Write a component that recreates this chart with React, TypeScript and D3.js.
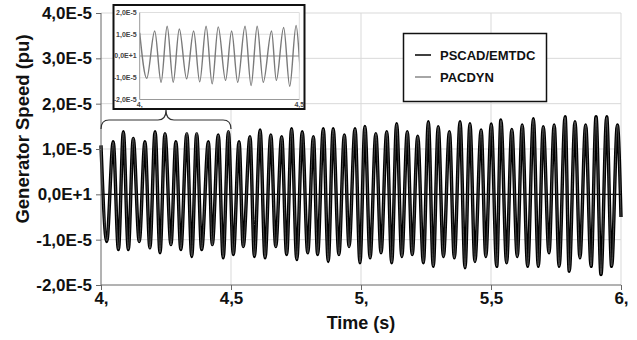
import React, { useEffect, useRef } from 'react';
import * as d3 from 'd3';

// extrema of the generator speed trace (units of 1e-5 pu)
const times = [
  4.000, 4.022, 4.047, 4.067, 4.086, 4.105, 4.124, 4.147, 4.169, 4.188,
  4.208, 4.227, 4.246, 4.269, 4.288, 4.307, 4.330, 4.349, 4.368, 4.387,
  4.413, 4.428, 4.451, 4.470, 4.490, 4.509, 4.531, 4.547, 4.573, 4.590,
  4.612, 4.631, 4.653, 4.672, 4.695, 4.714, 4.733, 4.753, 4.774, 4.795,
  4.817, 4.833, 4.855, 4.874, 4.893, 4.915, 4.936, 4.954, 4.977, 4.996,
  5.015, 5.035, 5.057, 5.077, 5.099, 5.118, 5.137, 5.157, 5.178, 5.197,
  5.218, 5.240, 5.259, 5.278, 5.297, 5.317, 5.340, 5.359, 5.381, 5.400,
  5.419, 5.438, 5.462, 5.480, 5.501, 5.522, 5.538, 5.560, 5.580, 5.601,
  5.620, 5.641, 5.663, 5.682, 5.701, 5.723, 5.743, 5.762, 5.785, 5.801,
  5.823, 5.842, 5.864, 5.885, 5.904, 5.923, 5.945, 5.964, 5.986, 6.000,
];
const pscadValues = [
  1.08, -1.04, 1.16, -1.22, 1.38, -1.22, 1.23, -1.04, 1.16, -1.18,
  1.38, -1.29, 1.34, -1.11, 1.16, -1.22, 1.34, -1.37, 1.34, -1.22,
  1.16, -1.11, 1.31, -1.40, 1.38, -1.33, 1.16, -1.15, 1.27, -1.37,
  1.42, -1.40, 1.31, -1.15, 1.27, -1.33, 1.45, -1.44, 1.38, -1.29,
  1.27, -1.33, 1.45, -1.48, 1.45, -1.33, 1.31, -1.15, 1.45, -1.51,
  1.50, -1.40, 1.34, -1.29, 1.38, -1.51, 1.56, -1.37, 1.38, -1.33,
  1.28, -1.51, 1.60, -1.59, 1.49, -1.37, 1.38, -1.40, 1.60, -1.62,
  1.56, -1.48, 1.42, -1.37, 1.55, -1.59, 1.64, -1.51, 1.43, -1.37,
  1.53, -1.59, 1.67, -1.59, 1.49, -1.29, 1.53, -1.59, 1.71, -1.70,
  1.60, -1.40, 1.53, -1.59, 1.71, -1.77, 1.71, -1.59, 1.53, -0.50,
];
// PACDYN lies on top of PSCAD almost everywhere
const pacdynValues = [
  1.06, -1.03, 1.15, -1.21, 1.37, -1.21, 1.24, -1.05, 1.15, -1.19,
  1.37, -1.28, 1.34, -1.12, 1.15, -1.21, 1.37, -1.36, 1.37, -1.21,
  1.15, -1.12, 1.31, -1.39, 1.40, -1.32, 1.15, -1.16, 1.27, -1.36,
  1.41, -1.39, 1.31, -1.16, 1.27, -1.32, 1.44, -1.43, 1.37, -1.29,
  1.27, -1.32, 1.44, -1.47, 1.44, -1.33, 1.31, -1.16, 1.44, -1.50,
  1.49, -1.40, 1.34, -1.29, 1.38, -1.50, 1.55, -1.37, 1.38, -1.33,
  1.28, -1.50, 1.59, -1.58, 1.49, -1.37, 1.38, -1.40, 1.59, -1.61,
  1.55, -1.48, 1.42, -1.37, 1.54, -1.58, 1.63, -1.51, 1.43, -1.37,
  1.53, -1.58, 1.66, -1.58, 1.49, -1.29, 1.53, -1.58, 1.70, -1.69,
  1.60, -1.40, 1.53, -1.58, 1.70, -1.76, 1.70, -1.58, 1.53, -0.50,
];
const UNIT = 1e-5;

const yTicks = [4e-5, 3e-5, 2e-5, 1e-5, 0, -1e-5, -2e-5];
const yTickLabels = ['4,0E-5', '3,0E-5', '2,0E-5', '1,0E-5', '0,0E+1', '-1,0E-5', '-2,0E-5'];
const xTicks = [4, 4.5, 5, 5.5, 6];
const xTickLabels = ['4,', '4,5', '5,', '5,5', '6,'];

const insetYTicks = [2e-5, 1e-5, 0, -1e-5, -2e-5];
const insetYTickLabels = ['2,0E-5', '1,0E-5', '0,0E+1', '-1,0E-5', '-2,0E-5'];
const insetXTicks = [4, 4.5];
const insetXTickLabels = ['4,', '4,5'];

const seriesNames = ['PSCAD/EMTDC', 'PACDYN'];

const FONT = "Arial, 'Liberation Sans', sans-serif";

const App = () => {
    const svgRef = useRef(null);

    useEffect(() => {
        const svg = d3.select(svgRef.current);
        svg.selectAll('*').remove();

        const x = d3.scaleLinear().domain([4, 6]).range([101, 621]);
        const y = d3.scaleLinear().domain([-2e-5, 4e-5]).range([285, 13]);

        const pscad = times.map((t, i) => ({ t, v: pscadValues[i] * UNIT }));
        const pacdyn = times.map((t, i) => ({ t, v: pacdynValues[i] * UNIT }));

        // grid
        svg.append('g')
            .selectAll('line')
            .data(yTicks.filter(d => d !== 0 && d !== -2e-5))
            .join('line')
            .attr('x1', x(4)).attr('x2', x(6))
            .attr('y1', d => y(d)).attr('y2', d => y(d))
            .attr('stroke', '#d9d9d9');
        svg.append('g')
            .selectAll('line')
            .data(xTicks.slice(1))
            .join('line')
            .attr('x1', d => x(d)).attr('x2', d => x(d))
            .attr('y1', y(4e-5)).attr('y2', y(-2e-5))
            .attr('stroke', '#d9d9d9');

        // traces
        const line = d3.line()
            .x(d => x(d.t))
            .y(d => y(d.v))
            .curve(d3.curveMonotoneX);

        svg.append('path')
            .datum(pscad)
            .attr('d', line)
            .attr('fill', 'none')
            .attr('stroke', '#000')
            .attr('stroke-width', 3.4);
        svg.append('path')
            .datum(pacdyn)
            .attr('d', line)
            .attr('fill', 'none')
            .attr('stroke', '#777')
            .attr('stroke-width', 0.6);

        // zero line
        svg.append('line')
            .attr('x1', x(4)).attr('x2', x(6))
            .attr('y1', y(0)).attr('y2', y(0))
            .attr('stroke', '#111')
            .attr('stroke-width', 1.3);

        // axes
        const yAxis = svg.append('g')
            .attr('transform', `translate(${x(4)},0)`)
            .call(d3.axisLeft(y).tickValues(yTicks).tickSize(5)
                .tickFormat((d, i) => yTickLabels[i]));
        yAxis.select('.domain').attr('stroke', '#666').attr('d', `M0,${y(4e-5)}V${y(-2e-5)}`);
        yAxis.selectAll('.tick line').attr('stroke', '#666');
        yAxis.selectAll('text')
            .attr('x', -9)
            .attr('fill', '#111')
            .style('font-family', FONT)
            .style('font-size', '17px')
            .style('font-weight', 'bold');

        const xAxis = svg.append('g')
            .attr('transform', `translate(0,${y(-2e-5)})`)
            .call(d3.axisBottom(x).tickValues(xTicks).tickSize(5)
                .tickFormat((d, i) => xTickLabels[i]));
        xAxis.select('.domain').attr('stroke', '#666').attr('d', `M${x(4)},0H${x(6)}`);
        xAxis.selectAll('.tick line').attr('stroke', '#666');
        xAxis.selectAll('text')
            .attr('y', 7)
            .attr('fill', '#111')
            .style('font-family', FONT)
            .style('font-size', '17px')
            .style('font-weight', 'bold');

        // axis titles
        svg.append('text')
            .attr('x', (x(4) + x(6)) / 2)
            .attr('y', 329)
            .attr('text-anchor', 'middle')
            .style('font-family', FONT)
            .style('font-size', '18px')
            .style('font-weight', 'bold')
            .attr('fill', '#111')
            .text('Time (s)');
        svg.append('text')
            .attr('transform', `translate(29,129) rotate(-90)`)
            .attr('text-anchor', 'middle')
            .style('font-family', FONT)
            .style('font-size', '18.5px')
            .style('font-weight', 'bold')
            .attr('fill', '#111')
            .text('Generator Speed (pu)');

        // brace under the inset, spanning 4 .. 4.5 s
        const bx0 = x(4), bx1 = x(4.5), bm = (bx0 + bx1) / 2;
        const by = 120, bTop = 110, bBot = 129, r = 8;
        svg.append('path')
            .attr('d', `M${bx0},${bBot} Q${bx0},${by} ${bx0 + r},${by} L${bm - r},${by} Q${bm},${by} ${bm},${bTop}` +
                ` Q${bm},${by} ${bm + r},${by} L${bx1 - r},${by} Q${bx1},${by} ${bx1},${bBot}`)
            .attr('fill', 'none')
            .attr('stroke', '#333')
            .attr('stroke-width', 1.2);

        // legend
        const legend = svg.append('g');
        legend.append('rect')
            .attr('x', 403.5).attr('y', 33.5)
            .attr('width', 143).attr('height', 68)
            .attr('fill', '#fff')
            .attr('stroke', '#111')
            .attr('stroke-width', 1.5);
        seriesNames.forEach((name, i) => {
            const ly = 55 + i * 22;
            legend.append('line')
                .attr('x1', 415).attr('x2', 431)
                .attr('y1', ly).attr('y2', ly)
                .attr('stroke', i === 0 ? '#000' : '#888')
                .attr('stroke-width', 1.5);
            legend.append('text')
                .attr('x', 440).attr('y', ly)
                .attr('dy', '0.35em')
                .style('font-family', FONT)
                .style('font-size', '13px')
                .style('font-weight', 'bold')
                .attr('fill', '#111')
                .text(name);
        });

        // inset: PACDYN between 4 and 4.5 s
        const inset = svg.append('g');
        inset.append('rect')
            .attr('x', 113.5).attr('y', 5)
            .attr('width', 191).attr('height', 104)
            .attr('fill', '#fff')
            .attr('stroke', '#111')
            .attr('stroke-width', 2);

        const xi = d3.scaleLinear().domain([4, 4.5]).range([139.7, 299.3]);
        const yi = d3.scaleLinear().domain([-2e-5, 2e-5]).range([99.5, 12.5]);

        svg.append('defs').append('clipPath')
            .attr('id', 'inset-clip')
            .append('rect')
            .attr('x', xi(4)).attr('y', yi(2e-5))
            .attr('width', xi(4.5) - xi(4))
            .attr('height', yi(-2e-5) - yi(2e-5));

        inset.append('g')
            .selectAll('line')
            .data(insetYTicks.filter(d => d !== -2e-5))
            .join('line')
            .attr('x1', xi(4)).attr('x2', xi(4.5))
            .attr('y1', d => yi(d)).attr('y2', d => yi(d))
            .attr('stroke', d => (d === 0 ? '#8a8a8a' : '#dedede'));
        inset.append('line')
            .attr('x1', xi(4.5)).attr('x2', xi(4.5))
            .attr('y1', yi(2e-5)).attr('y2', yi(-2e-5))
            .attr('stroke', '#dedede');

        const insetLine = d3.line()
            .x(d => xi(d.t))
            .y(d => yi(d.v))
            .curve(d3.curveMonotoneX);
        inset.append('path')
            .datum(pacdyn.filter(d => d.t <= 4.55))
            .attr('d', insetLine)
            .attr('clip-path', 'url(#inset-clip)')
            .attr('fill', 'none')
            .attr('stroke', '#7a7a7a')
            .attr('stroke-width', 1.4);

        inset.append('path')
            .attr('d', `M${xi(4)},${yi(2e-5)}V${yi(-2e-5)}H${xi(4.5)}`)
            .attr('fill', 'none')
            .attr('stroke', '#999');

        inset.append('g')
            .selectAll('text')
            .data(insetYTicks)
            .join('text')
            .attr('x', xi(4) - 3)
            .attr('y', d => yi(d))
            .attr('dy', '0.35em')
            .attr('text-anchor', 'end')
            .style('font-family', FONT)
            .style('font-size', '7px')
            .style('font-weight', 'bold')
            .attr('fill', '#444')
            .text((d, i) => insetYTickLabels[i]);
        inset.append('g')
            .selectAll('text')
            .data(insetXTicks)
            .join('text')
            .attr('x', d => xi(d))
            .attr('y', 107)
            .attr('text-anchor', 'middle')
            .style('font-family', FONT)
            .style('font-size', '7px')
            .style('font-weight', 'bold')
            .attr('fill', '#444')
            .text((d, i) => insetXTickLabels[i]);
    }, []);

    return (
        <svg
            ref={svgRef}
            width={637}
            height={340}
            style={{ position: 'absolute', left: 0, top: 0, background: '#fff', display: 'block' }}
        />
    );
};

export default App;
